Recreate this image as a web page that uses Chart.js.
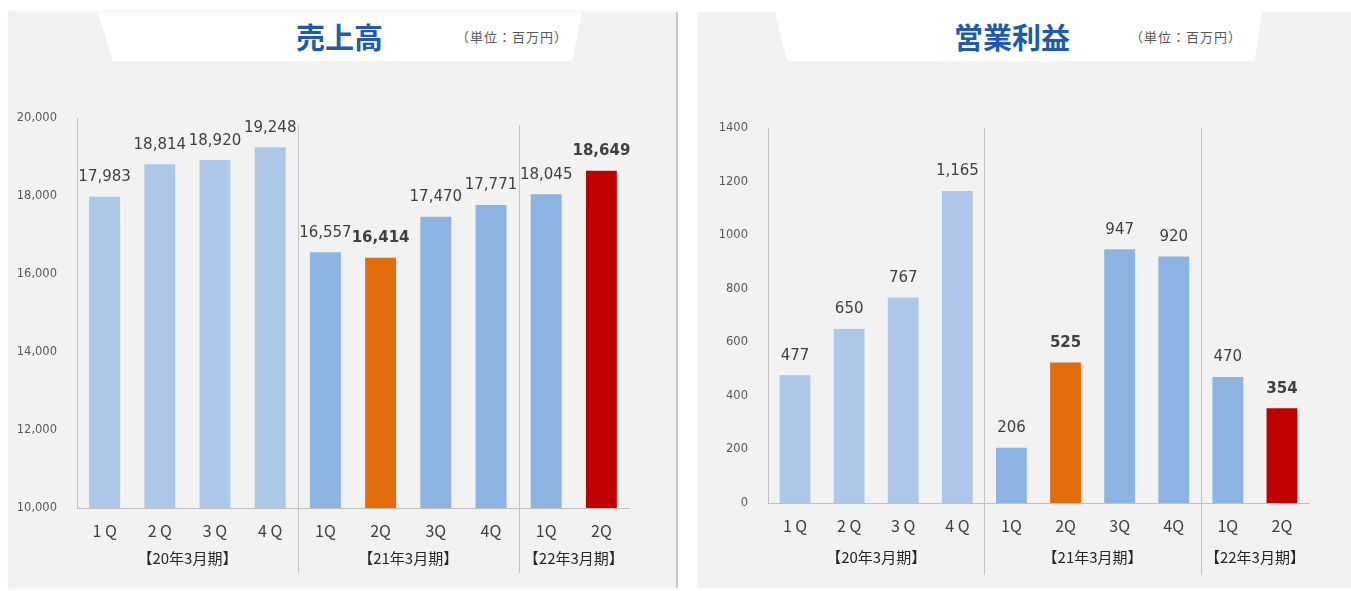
<!DOCTYPE html>
<html lang="ja">
<head>
<meta charset="utf-8">
<title>売上高・営業利益</title>
<script src="https://cdn.jsdelivr.net/npm/chart.js@4.4.1/dist/chart.umd.min.js"></script>
<style>
  html, body { margin: 0; padding: 0; background: #fff; }
  body { width: 1351px; height: 591px; position: relative; overflow: hidden; font-family: "Noto Sans CJK JP", sans-serif; }
  .panel { position: absolute; top: 12px; height: 576px; background: #f2f2f2; }
  #panelL { left: 10px; width: 666px; border-right: 2px solid #c6c6c6; box-shadow: -1px 0 2px #e4e4e4; }
  #panelR { left: 697px; width: 654px; }
  .tab { position: absolute; top: 12px; height: 49px; background: #fff; }
  #tabL { left: 98px; width: 484px; clip-path: polygon(0 0, 100% 0, 98% 100%, 3% 100%); }
  #tabR { left: 775px; width: 487px; clip-path: polygon(0 0, 100% 0, 98.5% 100%, 2.5% 100%); }
  .title { position: absolute; top: 16px; font-size: 29px; font-weight: bold; color: #1f5ba8; line-height: 40px; white-space: nowrap; }
  .unit { position: absolute; top: 29px; font-size: 13px; color: #595959; letter-spacing: 1px; white-space: nowrap; line-height: 16px; }
  .box { position: absolute; top: 0; height: 591px; }
  #boxL { left: 0; width: 676px; }
  #boxR { left: 680px; width: 671px; }
</style>
</head>
<body>
<div class="panel" id="panelL"></div>
<div class="panel" id="panelR"></div>
<div class="tab" id="tabL"></div>
<div class="tab" id="tabR"></div>
<div class="title" style="left:296px;">売上高</div>
<div class="unit" style="left:456px;">（単位：百万円）</div>
<div class="title" style="left:954px;">営業利益</div>
<div class="unit" style="left:1130px;">（単位：百万円）</div>
<div class="box" id="boxL"><canvas id="sales"></canvas></div>
<div class="box" id="boxR"><canvas id="profit"></canvas></div>
<script>
// quarters, grouped by fiscal year
const quarters = ['1 Q', '2 Q', '3 Q', '4 Q', '1Q', '2Q', '3Q', '4Q', '1Q', '2Q'];
const groups = [
  { label: '【20年3月期】', from: 0, to: 3 },
  { label: '【21年3月期】', from: 4, to: 7 },
  { label: '【22年3月期】', from: 8, to: 9 }
];

// 売上高 (百万円)
const salesValues = [17983, 18814, 18920, 19248, 16557, 16414, 17470, 17771, 18045, 18649];
const salesTicks = [10000, 12000, 14000, 16000, 18000, 20000];

// 営業利益 (百万円)
const profitValues = [477, 650, 767, 1165, 206, 525, 947, 920, 470, 354];
const profitTicks = [0, 200, 400, 600, 800, 1000, 1200, 1400];

const barColors = [
  '#adc7e8', '#adc7e8', '#adc7e8', '#adc7e8',
  '#8db3e2', '#e36c0a', '#8db3e2', '#8db3e2',
  '#8db3e2', '#c00000'
];
const boldBars = [5, 9];

// value labels, year separators and year labels
function makeOverlay(sepTop, sepBottom, groupY) {
  return {
    id: 'overlay',
    afterDatasetsDraw(chart) {
      const ctx = chart.ctx;
      const meta = chart.getDatasetMeta(0);
      const values = chart.data.datasets[0].data;
      const xs = chart.scales.x;
      ctx.save();
      ctx.textAlign = 'center';
      ctx.textBaseline = 'bottom';
      ctx.fillStyle = '#404040';
      meta.data.forEach((bar, i) => {
        ctx.font = (boldBars.includes(i) ? 'bold ' : '') + '15px "DejaVu Sans"';
        ctx.fillText(values[i].toLocaleString('en-US'), bar.x, bar.y - 12);
      });

      ctx.strokeStyle = '#c4c4c4';
      ctx.lineWidth = 1;
      groups.slice(1).forEach(g => {
        const px = Math.round((xs.getPixelForValue(g.from - 1) + xs.getPixelForValue(g.from)) / 2) + 0.5;
        ctx.beginPath();
        ctx.moveTo(px, sepTop);
        ctx.lineTo(px, sepBottom);
        ctx.stroke();
      });

      ctx.font = '15px "Noto Sans CJK JP"';
      ctx.textBaseline = 'middle';
      ctx.fillStyle = '#262626';
      groups.forEach(g => {
        const cx = (xs.getPixelForValue(g.from) + xs.getPixelForValue(g.to)) / 2;
        ctx.fillText(g.label, cx, groupY);
      });
      ctx.restore();
    }
  };
}

function makeChart(id, values, ticks, opts) {
  return new Chart(document.getElementById(id), {
    type: 'bar',
    data: {
      labels: quarters,
      datasets: [{
        data: values,
        backgroundColor: barColors,
        borderWidth: 0,
        barPercentage: opts.barPct,
        categoryPercentage: 1
      }]
    },
    options: {
      responsive: true,
      maintainAspectRatio: false,
      animation: false,
      layout: { padding: { top: opts.top, right: opts.right, left: 0, bottom: 0 } },
      plugins: { legend: { display: false }, tooltip: { enabled: false } },
      scales: {
        x: {
          grid: { display: false },
          border: { display: true, color: '#bfbfbf' },
          ticks: { color: '#404040', font: { family: '"Noto Sans CJK JP"', size: 16 }, padding: 5, maxRotation: 0 },
          afterFit(scale) { scale.height = opts.xHeight; }
        },
        y: {
          min: ticks[0],
          max: ticks[ticks.length - 1],
          grid: { display: false },
          border: { display: true, color: '#bfbfbf' },
          afterBuildTicks(scale) { scale.ticks = ticks.map(v => ({ value: v })); },
          ticks: {
            color: '#595959',
            font: { family: '"DejaVu Sans"', size: 11.5 },
            padding: 12,
            callback: v => opts.commas ? v.toLocaleString('en-US') : String(v)
          },
          afterFit(scale) { scale.width = opts.yWidth; }
        }
      }
    },
    plugins: [makeOverlay(opts.sepTop, opts.sepBottom, opts.groupY)]
  });
}

makeChart('sales', salesValues, salesTicks, {
  top: 118, right: 47, xHeight: 83, yWidth: 77, barPct: 0.56,
  commas: true, sepTop: 125, sepBottom: 573, groupY: 558
});

makeChart('profit', profitValues, profitTicks, {
  top: 128, right: 42, xHeight: 88, yWidth: 88, barPct: 0.57,
  commas: false, sepTop: 128, sepBottom: 575, groupY: 557
});
</script>
</body>
</html>
